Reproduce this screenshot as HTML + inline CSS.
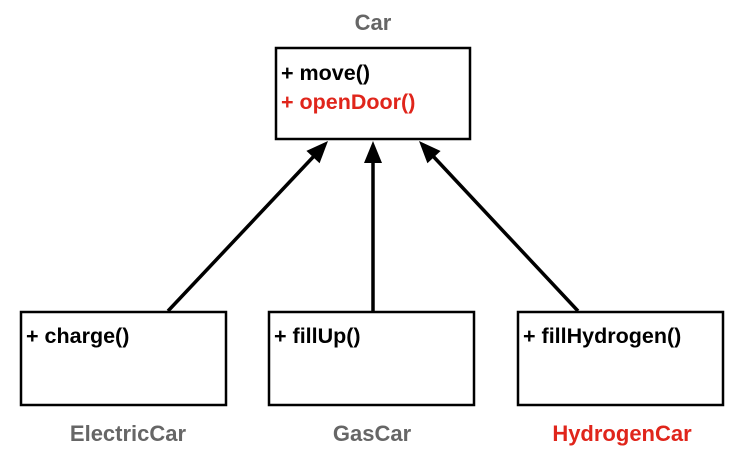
<!DOCTYPE html>
<html><head><style>
body{margin:0;width:746px;height:449px;background:#fff;overflow:hidden}
</style></head><body>
<svg width="746" height="449" xmlns="http://www.w3.org/2000/svg" style="font-family:'Liberation Sans',sans-serif;font-weight:bold">
<text x="373" y="30" text-anchor="middle" font-size="22" fill="#666">Car</text>
<rect x="276" y="48" width="194" height="91" fill="#fff" stroke="#000" stroke-width="2.5"/>
<text x="281" y="80" font-size="21.5" fill="#000">+ move()</text>
<text x="281" y="109" font-size="21.5" fill="#e0251b">+ openDoor()</text>
<rect x="21" y="312" width="205" height="93" fill="#fff" stroke="#000" stroke-width="2.5"/>
<rect x="269" y="312" width="205" height="93" fill="#fff" stroke="#000" stroke-width="2.5"/>
<rect x="518" y="312" width="205" height="93" fill="#fff" stroke="#000" stroke-width="2.5"/>
<text x="26" y="343" font-size="21.5">+ charge()</text>
<text x="274" y="343" font-size="21.5">+ fillUp()</text>
<text x="523" y="343" font-size="21.5">+ fillHydrogen()</text>
<text x="128" y="441" text-anchor="middle" font-size="22" fill="#666">ElectricCar</text>
<text x="372" y="441" text-anchor="middle" font-size="22" fill="#666">GasCar</text>
<text x="622" y="441" text-anchor="middle" font-size="22" fill="#e0251b">HydrogenCar</text>
<g stroke="#000" stroke-width="3.5">
<line x1="168" y1="311" x2="315" y2="155"/>
<line x1="373" y1="311" x2="373" y2="160"/>
<line x1="578" y1="311" x2="432" y2="155"/>
</g>
<g fill="#000">
<polygon points="328,141 319.6,163.3 306.4,150.9"/>
<polygon points="373,141 382,163 364,163"/>
<polygon points="419,141 440.6,151 427.4,163.2"/>
</g>
</svg>
</body></html>
